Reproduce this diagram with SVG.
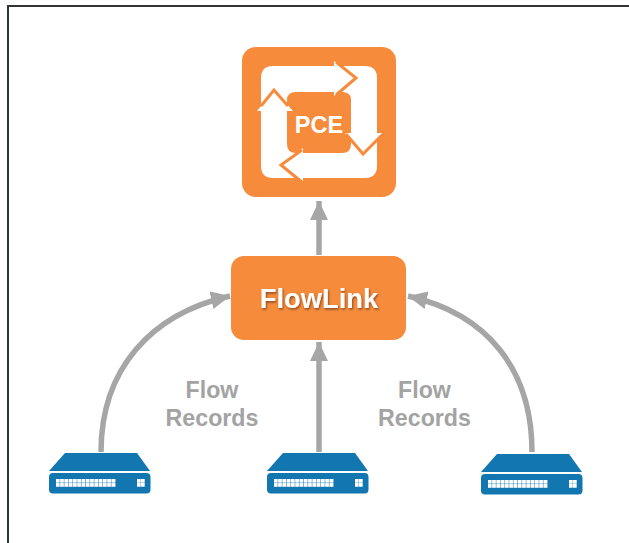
<svg xmlns="http://www.w3.org/2000/svg" width="629" height="543" viewBox="0 0 629 543">
<style>
text{font-family:"Liberation Sans",Arial,sans-serif;font-weight:700;text-anchor:middle}
.lab{fill:#a3a3a3;font-size:23.200px}
.org{fill:#f68b3c}
.conn{fill:none;stroke:#a6a6a6;stroke-width:5.500}
.fill{fill:#fff}
.edge{fill:none;stroke:#f68b3c;stroke-width:3;stroke-linejoin:miter}
</style>
<defs>
<marker id="ah" markerUnits="userSpaceOnUse" markerWidth="22" markerHeight="20" refX="19" refY="9" orient="auto"><path d="M0 0L19 9L0 18z" fill="#a6a6a6"/></marker>
<filter id="sh" x="-10%" y="-20%" width="120%" height="150%"><feDropShadow dx="1" dy="1.500" stdDeviation="1" flood-color="#000" flood-opacity=".45"/></filter>
<pattern id="dots" width="4.280" height="4.200" patternUnits="userSpaceOnUse" x="56" y="479"><rect width="3.800" height="3.800" fill="#fff"/></pattern>
<g id="sw">
<path d="M65 453H137L150 471H49Z" fill="#1277b0"/>
<rect x="49" y="473" width="101.500" height="20.500" rx="4" fill="#1277b0"/>
<rect x="56" y="479" width="60" height="8" fill="url(#dots)"/>
<path d="M137 479h3.700v3.700h-3.700zM141 479h3.700v3.700h-3.700zM137 483h3.700v3.700h-3.700zM141 483h3.700v3.700h-3.700z" fill="#fff"/>
</g>
</defs>
<rect width="629" height="543" fill="#fff"/>
<path id="frame" d="M8 543V6H629" fill="none" stroke="#2f3436" stroke-width="2"/>
<g id="connectors">
<path class="conn" d="M319 255V201" marker-end="url(#ah)"/>
<path class="conn" d="M319 452V342" marker-end="url(#ah)"/>
<path class="conn" d="M101 452C101 370 150 314 230 296" marker-end="url(#ah)"/>
<path class="conn" d="M532 452C532 370 488 314 408 296" marker-end="url(#ah)"/>
</g>
<g id="pce">
<rect class="org" x="242" y="47" width="154" height="150" rx="14"/>
<path fill="#fff" fill-rule="evenodd" d="M273 66H365Q377 66 377 78V166Q377 178 365 178H273Q261 178 261 166V78Q261 66 273 66ZM296 92Q287 92 287 100V144Q287 153 296 153H342Q351 153 351 144V100Q351 92 342 92Z"/>
<path class="fill" d="M257 111L274 90L293 111Z"/>
<path class="edge" d="M261 106L274 90L288 106"/>
<path class="fill" d="M334 61L356 78L334 96Z"/>
<path class="edge" d="M336 62L356 78L336 95"/>
<path class="fill" d="M345 133L363 154L382 133Z"/>
<path class="edge" d="M346 134L363 154L381 136"/>
<path class="fill" d="M303 148L281 165L303 183Z"/>
<path class="edge" d="M302 150L281 165L303 183"/>
<text x="319" y="133" font-size="23.500" fill="#fff">PCE</text>
</g>
<g id="flowlink">
<rect class="org" x="231" y="256" width="175" height="84" rx="13"/>
<text x="319" y="308" font-size="27.300" fill="#fff" filter="url(#sh)">FlowLink</text>
</g>
<g id="switch1"><use href="#sw"/></g>
<g id="switch2"><use href="#sw" x="218"/></g>
<g id="switch3"><use href="#sw" x="432" y="1"/></g>
<text class="lab" x="212" y="398">Flow</text>
<text class="lab" x="212" y="426">Records</text>
<text class="lab" x="424.500" y="398">Flow</text>
<text class="lab" x="424.500" y="426">Records</text>
</svg>
